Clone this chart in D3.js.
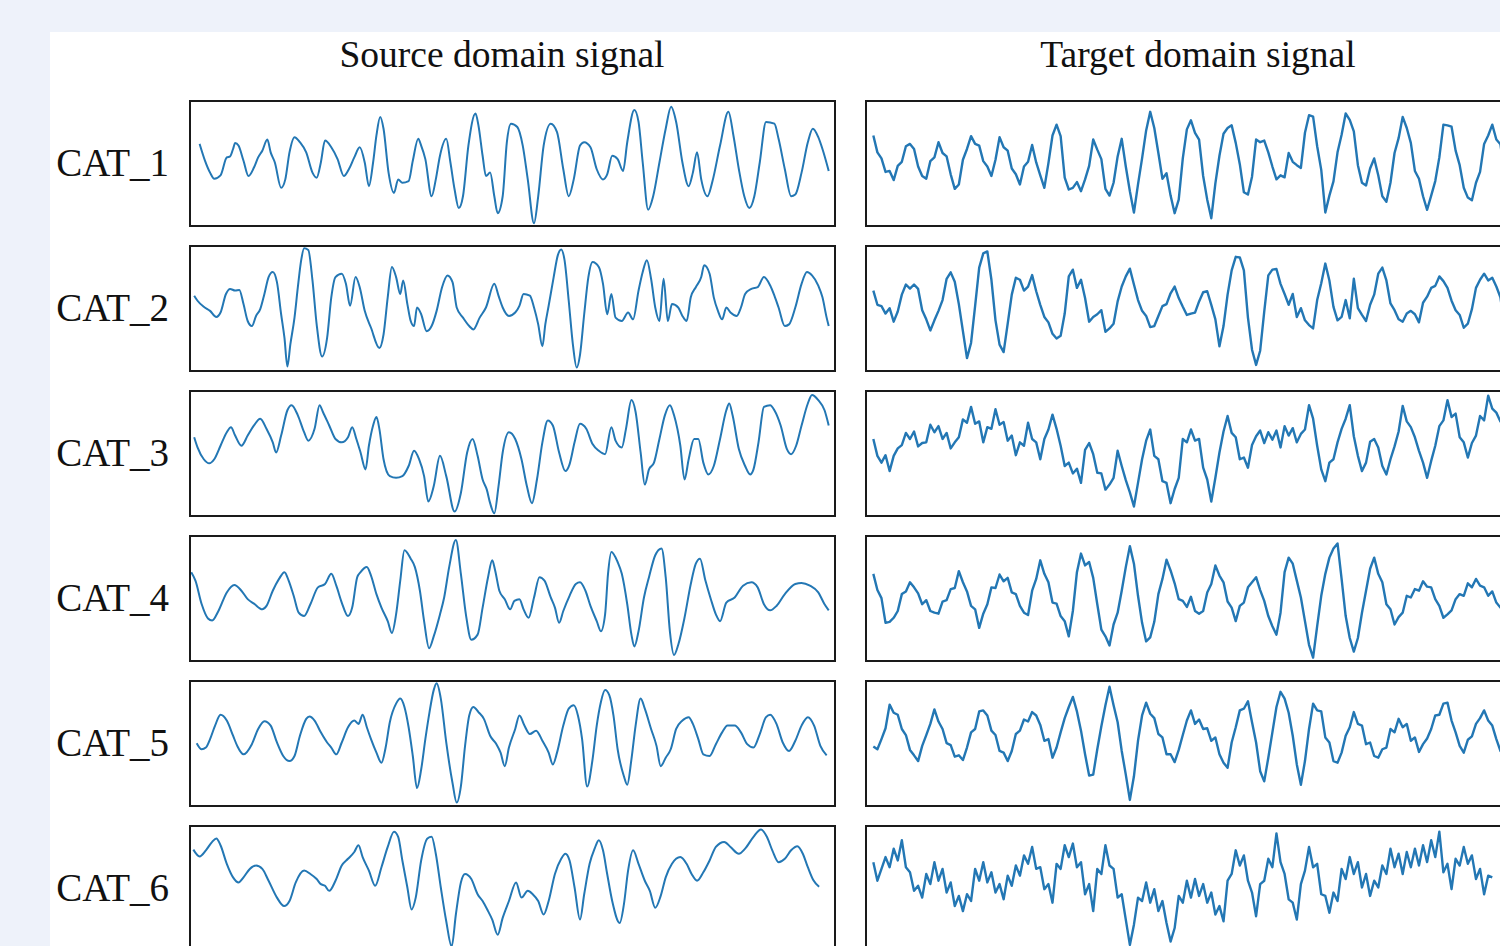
<!DOCTYPE html>
<html>
<head>
<meta charset="utf-8">
<script src="https://cdn.jsdelivr.net/npm/d3@7"></script>
<style>
  html, body { margin: 0; padding: 0; background: #eef2fa; overflow: hidden; }
  svg { display: block; }
</style>
</head>
<body>
<svg id="chart" width="1500" height="946"></svg>
<script>
// ---- Data ------------------------------------------------------------------
var categories = ['CAT_1', 'CAT_2', 'CAT_3', 'CAT_4', 'CAT_5', 'CAT_6'];
var columnTitles = ['Source domain signal', 'Target domain signal'];

// axis limits (like xlim / ylim): source time, target time, amplitude
var SRC_TIME_LIMITS = [12, 1555];
var TGT_TIME_LIMITS = [10, 1594];
var AMP_LIMITS = [-188, 182];

// target signals are uniformly sampled: t = TGT_T0 + i * TGT_DT
var TGT_T0 = 28, TGT_DT = 10;

// source signals: [time, amplitude]
var srcCat1 = [[35,55],[48,5],[60,-30],[70,-48],[85,-38],[100,15],[108,18],[115,40],[120,58],[128,50],[140,5],[152,-40],[165,-15],[175,15],[185,35],[197,68],[205,30],[215,0],[230,-75],[240,-50],[250,30],[262,75],[275,60],[290,30],[305,-30],[315,-45],[325,0],[335,65],[350,45],[365,10],[380,-40],[392,-20],[405,15],[418,45],[430,0],[440,-70],[450,0],[458,80],[467,135],[475,100],[487,-30],[500,-90],[510,-50],[520,-60],[535,-55],[545,5],[558,70],[565,50],[575,10],[590,-100],[600,-50],[610,20],[625,70],[635,0],[645,-80],[655,-135],[665,-100],[678,50],[695,145],[702,110],[712,20],[720,-40],[730,-30],[740,-100],[748,-150],[760,-100],[770,60],[780,115],[795,105],[808,50],[820,-50],[835,-180],[845,-100],[858,50],[875,115],[890,90],[905,-20],[918,-100],[930,-50],[945,50],[955,60],[970,45],[985,-20],[1000,-50],[1010,-35],[1022,20],[1035,10],[1048,-25],[1058,60],[1075,155],[1085,120],[1095,0],[1108,-140],[1120,-100],[1135,0],[1150,100],[1163,165],[1175,120],[1190,0],[1205,-70],[1215,-30],[1225,30],[1235,-50],[1250,-100],[1262,-55],[1280,50],[1300,150],[1312,80],[1325,-20],[1338,-100],[1350,-135],[1362,-100],[1375,0],[1390,120],[1410,115],[1420,70],[1435,-20],[1450,-100],[1460,-95],[1475,-30],[1490,60],[1502,100],[1515,75],[1525,40],[1540,-25]];
var srcCat2 = [[22,35],[30,20],[45,2],[60,-10],[75,-28],[85,-15],[98,40],[108,55],[120,50],[130,52],[140,10],[150,-40],[160,-55],[170,-25],[180,-5],[190,40],[200,90],[210,105],[220,75],[230,-20],[238,-90],[245,-175],[252,-110],[262,-30],[270,60],[278,140],[285,175],[295,170],[305,80],[315,-50],[328,-145],[340,-90],[350,30],[360,90],[375,100],[385,70],[395,5],[408,90],[418,60],[430,-10],[445,-60],[465,-120],[475,-80],[485,30],[495,120],[505,90],[515,40],[522,80],[532,10],[540,-40],[548,-55],[555,0],[565,-20],[578,-70],[590,-55],[602,-10],[615,60],[628,95],[640,75],[650,0],[665,-30],[680,-55],[690,-65],[705,-30],[720,0],[740,70],[750,35],[760,0],[775,-25],[790,-15],[800,5],[810,40],[825,35],[835,0],[845,-50],[855,-115],[862,-50],[870,5],[882,90],[892,155],[900,172],[908,140],[918,20],[928,-110],[937,-178],[945,-140],[955,-20],[965,90],[975,135],[990,120],[1000,70],[1010,-20],[1020,40],[1030,-30],[1045,-40],[1060,-15],[1072,-35],[1085,50],[1095,105],[1105,140],[1115,85],[1125,0],[1135,-40],[1145,85],[1155,-40],[1165,10],[1180,0],[1190,-25],[1200,-40],[1210,30],[1222,60],[1235,90],[1242,125],[1255,100],[1265,30],[1275,-10],[1285,-35],[1295,0],[1305,-15],[1320,-25],[1330,0],[1340,40],[1355,55],[1370,60],[1385,90],[1400,65],[1410,35],[1420,0],[1435,-55],[1445,-50],[1460,0],[1475,70],[1488,105],[1500,95],[1515,65],[1525,30],[1535,-30],[1540,-55]];
var srcCat3 = [[22,45],[30,15],[45,-20],[58,-32],[70,-20],[85,20],[100,60],[110,75],[120,50],[135,20],[150,50],[165,80],[180,100],[195,70],[210,30],[218,0],[230,50],[245,125],[255,140],[270,110],[285,60],[295,35],[310,70],[322,140],[330,120],[345,80],[360,40],[375,30],[390,45],[400,75],[410,40],[420,0],[432,-50],[440,20],[450,80],[458,105],[465,70],[475,-20],[490,-70],[505,-75],[520,-70],[535,-40],[548,5],[560,-20],[572,-70],[582,-145],[595,-100],[610,-10],[625,-70],[645,-175],[660,-120],[675,0],[688,40],[700,-10],[712,-80],[722,-110],[730,-150],[740,-180],[750,-100],[760,0],[775,60],[790,40],[805,-20],[818,-100],[830,-150],[842,-80],[855,30],[868,95],[880,80],[895,0],[910,-55],[920,-35],[932,30],[945,85],[960,70],[975,25],[990,5],[1005,-5],[1020,75],[1030,35],[1045,15],[1055,70],[1068,155],[1078,120],[1090,0],[1100,-95],[1110,-50],[1122,-30],[1135,40],[1148,110],[1160,140],[1170,110],[1185,20],[1195,-80],[1205,-20],[1218,40],[1228,40],[1240,-30],[1252,-65],[1265,-40],[1280,40],[1295,125],[1302,145],[1310,110],[1325,10],[1340,-40],[1352,-65],[1360,-50],[1372,30],[1385,135],[1400,140],[1410,125],[1425,80],[1440,10],[1450,-5],[1462,20],[1475,80],[1490,145],[1500,170],[1515,155],[1530,125],[1540,80]];
var srcCat4 = [[15,75],[25,50],[40,-20],[55,-62],[65,-68],[80,-40],[100,15],[118,37],[135,20],[150,-5],[165,-18],[185,-35],[195,-25],[210,20],[225,55],[238,75],[248,50],[260,5],[272,-45],[285,-55],[300,-20],[318,30],[335,40],[350,70],[362,35],[375,-15],[390,-55],[400,-30],[412,60],[420,75],[435,90],[445,65],[458,10],[470,-30],[485,-70],[495,-105],[505,-50],[515,50],[525,140],[540,115],[550,90],[562,20],[572,-70],[584,-150],[595,-115],[610,-50],[620,0],[632,90],[648,170],[660,70],[672,-50],[685,-125],[700,-110],[712,-30],[725,60],[735,110],[742,80],[752,20],[765,-5],[778,-35],[788,-10],[800,-5],[810,-35],[822,-60],[835,0],[848,60],[860,50],[875,0],[885,-30],[895,-75],[905,-40],[920,5],[935,40],[945,45],[958,20],[970,-25],[985,-70],[995,-100],[1005,-50],[1012,70],[1020,135],[1035,105],[1045,70],[1058,-20],[1068,-110],[1075,-145],[1085,-100],[1098,0],[1110,60],[1125,125],[1140,145],[1150,60],[1160,-100],[1170,-170],[1180,-140],[1195,-60],[1210,40],[1222,100],[1232,115],[1245,50],[1258,-5],[1270,-50],[1280,-70],[1295,-15],[1315,0],[1335,35],[1355,45],[1370,30],[1385,-20],[1400,-38],[1415,-25],[1435,10],[1460,40],[1475,43],[1495,35],[1515,15],[1530,-20],[1540,-38]];
var srcCat5 = [[28,-2],[40,-20],[50,-15],[60,10],[72,50],[85,82],[100,65],[115,20],[125,-10],[140,-35],[160,-5],[175,40],[190,63],[205,50],[220,0],[235,-40],[250,-55],[262,-40],[275,20],[290,70],[298,77],[310,65],[325,30],[340,0],[350,-15],[362,-35],[375,0],[390,45],[405,65],[415,55],[425,82],[435,45],[445,10],[458,-30],[470,-60],[480,-15],[490,60],[505,115],[515,130],[525,105],[535,45],[545,-40],[555,-135],[565,-80],[575,10],[585,90],[595,155],[602,175],[612,130],[625,0],[640,-120],[650,-178],[660,-130],[670,-10],[680,80],[690,105],[702,90],[715,70],[730,20],[745,-5],[755,-30],[765,-70],[775,-15],[790,40],[800,80],[812,50],[825,25],[840,35],[855,5],[870,-30],[880,-65],[890,-30],[905,50],[918,100],[930,110],[940,80],[950,10],[962,-130],[975,-50],[985,50],[995,120],[1005,155],[1015,140],[1025,80],[1035,-20],[1050,-100],[1058,-125],[1068,-50],[1078,50],[1090,130],[1100,100],[1115,40],[1128,-10],[1138,-70],[1150,-45],[1162,-20],[1175,40],[1190,65],[1205,75],[1215,55],[1228,10],[1240,-35],[1255,-40],[1270,-5],[1285,30],[1298,50],[1315,50],[1330,30],[1345,-5],[1360,-15],[1375,25],[1390,75],[1400,82],[1415,55],[1430,0],[1445,-25],[1460,5],[1475,50],[1490,75],[1505,50],[1520,-10],[1535,-38]];
var srcCat6 = [[20,112],[35,92],[50,110],[65,135],[75,145],[85,125],[100,70],[115,30],[128,15],[140,30],[155,55],[170,65],[185,55],[200,20],[220,-30],[237,-55],[250,-40],[265,15],[285,50],[300,40],[315,25],[325,10],[335,5],[345,-10],[360,20],[375,65],[390,85],[405,105],[415,125],[425,90],[440,50],[455,5],[470,60],[485,120],[500,165],[510,150],[520,80],[532,0],[542,-65],[552,-30],[565,80],[580,145],[590,150],[600,100],[612,0],[625,-100],[638,-175],[648,-80],[660,15],[670,40],[685,25],[700,-20],[712,-40],[725,-70],[735,-95],[748,-140],[760,-90],[775,-40],[792,15],[805,-30],[820,-10],[832,-20],[845,-40],[858,-80],[870,-40],[885,40],[900,85],[910,100],[920,80],[932,0],[945,-95],[955,-20],[968,70],[980,115],[990,140],[1000,110],[1010,40],[1022,-40],[1040,-105],[1050,-50],[1060,50],[1072,110],[1085,70],[1100,20],[1112,-10],[1125,-60],[1138,-25],[1150,30],[1165,70],[1185,90],[1200,70],[1212,40],[1225,20],[1240,45],[1255,80],[1270,120],[1290,135],[1305,120],[1325,100],[1340,115],[1360,150],[1378,172],[1392,150],[1405,110],[1420,75],[1435,85],[1450,110],[1465,122],[1478,100],[1490,60],[1503,22],[1517,2]];

// target signals: amplitude samples
var tgtCat1 = [
  80,30,12,-28,-25,-52,-10,2,48,55,
  40,-12,-40,-48,4,15,60,28,18,-35,
  -78,-65,8,40,78,55,50,4,-12,-40,
  8,75,45,35,-18,-35,-65,-12,2,52,
  0,-38,-75,-2,80,112,78,-45,-80,-75,
  -58,-85,-50,-10,68,38,10,-78,-98,-60,
  18,70,-12,-85,-148,-65,12,95,150,102,
  28,-48,-32,-98,-150,-110,12,98,125,88,
  68,-40,-110,-165,-62,20,85,102,110,58,
  -5,-88,-95,-42,68,60,65,30,-12,-50,
  -38,-44,28,2,-8,-16,88,140,136,48,
  -22,-148,-98,-56,30,82,145,126,92,-8,
  -60,-68,-18,12,-38,-100,-116,-60,28,72,
  135,102,58,-25,-48,-100,-140,-98,-55,15,
  112,110,106,35,-8,-75,-104,-112,-60,-28,
  55,80,112,68,54,-30];
var tgtCat2 = [
  50,8,4,-18,-2,-42,-12,38,68,56,
  68,55,-8,-35,-68,-38,-10,22,85,104,
  76,10,-70,-150,-105,5,118,160,166,82,
  -38,-110,-132,-48,38,88,82,50,62,96,
  48,8,-28,-44,-78,-92,-84,-18,92,112,
  58,82,28,-42,-28,-20,-8,-72,-62,-48,
  18,62,92,115,68,22,-10,-25,-58,-55,
  -25,4,10,42,62,28,2,-22,-18,-15,
  18,45,48,8,-35,-115,-55,38,110,150,
  148,110,-30,-125,-170,-128,-12,95,112,114,
  70,40,8,40,-28,-2,-38,-52,-62,22,
  72,130,80,2,-38,-28,22,-32,85,-2,
  -22,-40,8,38,100,118,80,12,-8,-35,
  -42,-18,-10,-20,-44,14,32,58,64,92,
  78,58,20,-8,-22,-60,-48,-5,58,82,
  100,80,88,62,30,-52];
var tgtCat3 = [
  40,-10,-30,-8,-55,-10,12,22,58,40,
  62,18,28,30,82,60,78,40,58,12,
  30,45,98,88,135,85,92,30,75,70,
  128,82,90,35,50,-8,30,20,88,40,
  30,-20,40,68,112,70,20,-40,-30,-62,
  -48,-90,8,28,-5,-60,-62,-110,-95,-75,
  5,-40,-82,-118,-160,-90,-20,35,68,-10,
  -20,-85,-90,-150,-108,-75,40,30,68,35,
  40,-45,-80,-145,-75,0,62,108,58,45,
  -20,-15,-45,22,48,65,28,60,38,65,
  15,78,50,72,30,55,68,140,100,20,
  -50,-85,-30,-20,30,70,100,140,48,-10,
  -55,-30,32,40,15,-40,-65,-20,18,62,
  138,92,75,45,5,-30,-75,-25,20,78,
  95,155,105,115,45,30,-15,28,50,108,
  95,168,130,118,92,80];
var tgtCat4 = [
  70,22,-2,-75,-72,-60,-40,10,18,45,
  30,12,-20,-8,-40,-45,-48,-12,-8,25,
  28,78,45,18,-25,-35,-90,-48,-20,30,
  28,68,48,58,15,10,-25,-45,-52,20,
  55,110,70,45,-15,-18,-55,-70,-115,-40,
  75,130,95,105,58,-20,-95,-115,-142,-80,
  -45,20,90,152,100,5,-75,-130,-118,-72,
  10,55,112,80,42,-5,-10,-28,2,-40,
  -48,-40,15,40,95,65,45,-12,-30,-70,
  -25,-15,30,45,60,22,-10,-55,-85,-110,
  -45,75,118,100,50,0,-70,-140,-178,-85,
  5,70,118,145,160,55,-55,-120,-160,-120,
  -45,20,85,118,70,45,-20,-35,-80,-58,
  -45,5,0,25,20,48,32,30,-5,-25,
  -60,-50,-38,-5,10,5,42,30,55,35,
  30,5,18,-15,-30,-40];
var tgtCat5 = [
  -12,-20,10,42,112,88,82,40,22,-22,
  -38,-55,-10,22,55,98,62,40,-2,-8,
  -42,-38,-52,-15,30,40,92,95,80,35,
  22,-25,-30,-55,-25,25,35,68,62,90,
  80,52,5,10,-45,-15,30,72,105,135,
  92,35,-35,-98,-95,-20,48,110,165,110,
  60,-25,-95,-170,-100,5,80,118,85,72,
  25,15,-35,-35,-58,-22,22,65,95,55,
  68,40,42,5,15,-35,-60,-75,0,45,
  95,100,122,60,0,-85,-115,-45,30,105,
  150,130,88,20,-65,-125,-55,40,115,95,
  92,15,0,-55,-60,-30,20,45,90,55,
  50,-5,0,-40,-45,-20,-15,40,30,70,
  45,55,5,15,-28,-5,12,40,80,82,
  115,118,65,30,-10,-30,8,18,55,72,
  95,65,50,10,-25,-40];
var tgtCat6 = [
  75,20,55,90,60,115,80,140,60,45,
  -10,5,-30,40,10,75,20,55,-15,15,
  -55,-25,-70,-20,-40,55,20,75,15,45,
  -15,10,-35,35,5,65,35,95,70,120,
  55,60,-5,10,-45,70,55,125,90,130,
  60,75,-20,10,-70,55,40,125,65,55,
  -30,-20,-95,-170,-110,-30,-40,15,-45,-5,
  -70,-40,-105,-160,-120,-25,-45,20,-30,25,
  -25,10,-45,-15,-80,-55,-100,20,40,110,
  65,95,20,-15,-85,10,20,85,60,160,
  75,40,-35,-45,-95,10,50,120,60,70,
  -20,-25,-75,-15,-40,55,25,90,40,75,
  0,40,-25,20,0,65,40,115,60,100,
  40,105,60,115,65,125,75,140,90,165,
  45,70,-5,85,65,120,70,95,25,55,
  -20,35,30];

var sourceSeries = [srcCat1, srcCat2, srcCat3, srcCat4, srcCat5, srcCat6];
var targetSeries = [tgtCat1, tgtCat2, tgtCat3, tgtCat4, tgtCat5, tgtCat6];

// ---- Layout ----------------------------------------------------------------
var W = 1500, H = 946;
var PANEL = { x: 50, y: 32 };
var COL_X = [190, 866];
var BOX_W = 645, BOX_H = 125;
var ROW_Y0 = 101, ROW_STEP = 145;
var TITLE_X = [502, 1198], TITLE_Y = 67;
var LABEL_X = 169;
var LINE_COLOR = '#2377b4';
var FONT = '"Liberation Serif", "Times New Roman", "DejaVu Serif", serif';

var svg = d3.select('#chart');

svg.append('rect')
  .attr('x', PANEL.x).attr('y', PANEL.y)
  .attr('width', W - PANEL.x).attr('height', H - PANEL.y)
  .attr('fill', '#ffffff');

var yScale = d3.scaleLinear().domain(AMP_LIMITS).range([BOX_H, 0]);
var xSrc = d3.scaleLinear().domain(SRC_TIME_LIMITS).range([0, BOX_W]);
var xTgt = d3.scaleLinear().domain(TGT_TIME_LIMITS).range([0, BOX_W]);

var srcLine = d3.line()
  .x(function(d) { return xSrc(d[0]); })
  .y(function(d) { return yScale(d[1]); })
  .curve(d3.curveMonotoneX);

var tgtLine = d3.line()
  .x(function(d, i) { return xTgt(TGT_T0 + i * TGT_DT); })
  .y(function(d) { return yScale(d); });

// column titles
svg.selectAll('text.col-title')
  .data(columnTitles)
  .enter().append('text')
  .attr('class', 'col-title')
  .attr('x', function(d, i) { return TITLE_X[i]; })
  .attr('y', TITLE_Y)
  .attr('text-anchor', 'middle')
  .attr('font-family', FONT)
  .attr('font-size', 37.5)
  .attr('fill', '#111')
  .text(function(d) { return d; });

var defs = svg.append('defs');
defs.append('clipPath').attr('id', 'box-clip')
  .append('rect').attr('x', 0).attr('y', 0).attr('width', BOX_W).attr('height', BOX_H);

categories.forEach(function(cat, r) {
  var top = ROW_Y0 + r * ROW_STEP;

  svg.append('text')
    .attr('x', LABEL_X)
    .attr('y', top + BOX_H / 2 + 12)
    .attr('text-anchor', 'end')
    .attr('font-family', FONT)
    .attr('font-size', 39)
    .attr('fill', '#111')
    .text(cat);

  [0, 1].forEach(function(c) {
    var g = svg.append('g').attr('transform', 'translate(' + COL_X[c] + ',' + top + ')');
    g.append('rect')
      .attr('width', BOX_W).attr('height', BOX_H)
      .attr('fill', '#fff');

    g.append('g').attr('clip-path', 'url(#box-clip)')
      .append('path')
      .attr('d', c === 0 ? srcLine(sourceSeries[r]) : tgtLine(targetSeries[r]))
      .attr('fill', 'none')
      .attr('stroke', LINE_COLOR)
      .attr('stroke-width', c === 0 ? 2 : 2.4)
      .attr('stroke-linejoin', 'round');

    g.append('rect')
      .attr('width', BOX_W).attr('height', BOX_H)
      .attr('fill', 'none')
      .attr('stroke', '#1a1a1a')
      .attr('stroke-width', 2);
  });
});
</script>
</body>
</html>
